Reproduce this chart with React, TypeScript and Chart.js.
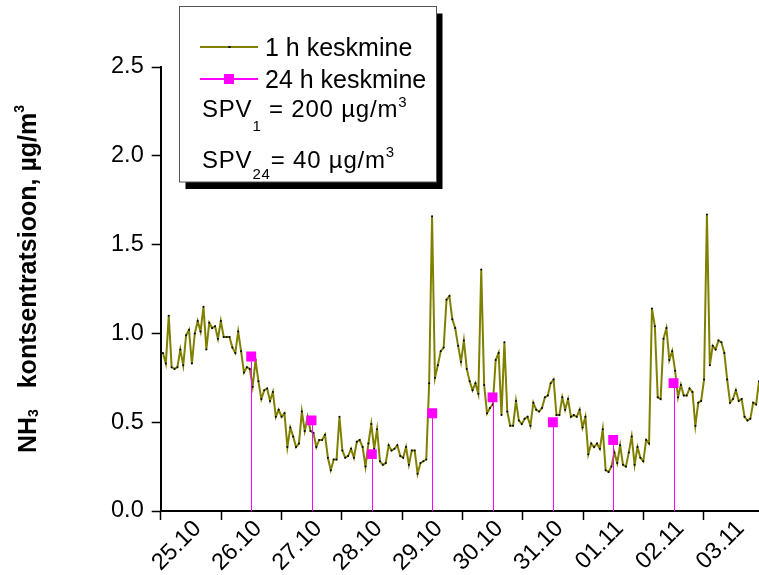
import React, { useEffect, useRef } from 'react';
import { Chart, registerables } from 'chart.js';

Chart.register(...registerables);

// ---------- data ----------
const DATE_LABELS = ['25.10', '26.10', '27.10', '28.10', '29.10', '30.10', '31.10', '01.11', '02.11', '03.11'];
const Y_TICKS = [0, 0.5, 1.0, 1.5, 2.0, 2.5];
const X_MAX_HOURS = 238;

// 1 h averages (hours since 25.10 00:00)
const HOURLY_START = 0.9;
const HOURLY_STEP = 1.151;
const HOURLY_NH3 = [
  0.89, 0.83, 1.10, 0.81, 0.80, 0.81, 0.91, 0.82, 0.99, 1.02,
  0.83, 1.00, 1.07, 1.01, 1.15, 0.91, 1.06, 1.03, 1.04, 0.97,
  1.07, 0.98, 0.98, 0.98, 0.92, 0.89, 1.01, 0.90, 0.78, 0.81,
  0.80, 0.70, 0.85, 0.73,
  0.63, 0.68, 0.69, 0.62, 0.67, 0.53, 0.57, 0.53, 0.55, 0.36,
  0.47, 0.42, 0.36, 0.38, 0.56, 0.45, 0.53, 0.45, 0.44, 0.36,
  0.40, 0.40, 0.43, 0.30, 0.23, 0.29, 0.29, 0.53, 0.34, 0.30,
  0.31, 0.35, 0.30, 0.39, 0.40,
  0.36, 0.25, 0.38, 0.49, 0.35, 0.46, 0.28, 0.26, 0.27, 0.37,
  0.34, 0.35, 0.37, 0.31, 0.30, 0.36, 0.26, 0.34, 0.34, 0.21,
  0.27, 0.28, 0.29, 0.72, 1.66, 0.75, 0.82, 0.90, 0.92, 1.19,
  1.21, 1.08, 1.03, 0.93, 0.84, 0.96, 0.80, 0.73,
  0.68, 0.72, 0.66, 1.36, 0.71, 0.55, 0.58, 0.60, 0.85, 0.89,
  0.54, 0.95, 0.56, 0.48, 0.48, 0.62, 0.51, 0.49, 0.52, 0.53,
  0.48, 0.61, 0.57, 0.56, 0.58, 0.64, 0.65, 0.72, 0.74, 0.54,
  0.54, 0.64, 0.57, 0.63, 0.53,
  0.54, 0.53, 0.57, 0.47, 0.53, 0.32, 0.38, 0.36, 0.38, 0.35,
  0.46, 0.23, 0.22, 0.25, 0.33, 0.27, 0.37, 0.26, 0.25, 0.33,
  0.42, 0.26, 0.36, 0.30, 0.28, 0.40, 0.38, 1.14, 1.04, 0.64,
  0.63, 0.97, 1.03, 0.85,
  0.90, 0.79, 0.64, 0.71, 0.65, 0.65, 0.69, 0.67, 0.48, 0.61,
  0.62, 0.74, 1.67, 0.82, 0.93, 0.91, 0.96, 0.95, 0.89, 0.74,
  0.61, 0.63, 0.68, 0.62, 0.63, 0.53, 0.51, 0.52, 0.61, 0.60,
  0.73,
];

// 24 h averages, plotted at midday
const DAILY_HOURS = [36, 60, 84, 108, 132, 156, 180, 204];
const DAILY_NH3 = [0.87, 0.51, 0.32, 0.55, 0.64, 0.50, 0.40, 0.72];

const SERIES_LABELS = ['1 h keskmine', '24 h keskmine'];
type Seg = { t: string; k?: 'sub' | 'sup' };
const LIMIT_TEXTS: Seg[][] = [
  [{ t: 'SPV' }, { t: '1', k: 'sub' }, { t: ' = 200 µg/m' }, { t: '3', k: 'sup' }],
  [{ t: 'SPV' }, { t: '24', k: 'sub' }, { t: '= 40 µg/m' }, { t: '3', k: 'sup' }],
];
const Y_TITLE: Seg[] = [{ t: 'NH' }, { t: '3', k: 'sub' }, { t: '   kontsentratsioon, µg/m' }, { t: '3', k: 'sup' }];

// ---------- styles ----------
const FONT = '"Liberation Sans", Arial, Helvetica, sans-serif';
const OLIVE = '#808000';
const MAGENTA = '#FF00FF';

type RichOpts = { size: number; small: number; subDy: number; supDy: number; bold?: boolean; align?: 'left' | 'center'; spacing?: number };

function drawRich(ctx: CanvasRenderingContext2D, segs: Seg[], x: number, y: number, o: RichOpts) {
  const anyCtx = ctx as any;
  const prevSpacing = anyCtx.letterSpacing;
  if (o.spacing) anyCtx.letterSpacing = `${o.spacing}px`;
  const w = (s: Seg) => {
    ctx.font = `${o.bold ? 'bold ' : ''}${s.k ? o.small : o.size}px ${FONT}`;
    return ctx.measureText(s.t).width;
  };
  const total = segs.reduce((a, s) => a + w(s), 0);
  let cx = o.align === 'center' ? x - total / 2 : x;
  ctx.textBaseline = 'alphabetic';
  ctx.textAlign = 'left';
  for (const s of segs) {
    const sw = w(s);
    ctx.font = `${o.bold ? 'bold ' : ''}${s.k ? o.small : o.size}px ${FONT}`;
    const dy = s.k === 'sub' ? o.subDy : s.k === 'sup' ? o.supDy : 0;
    ctx.fillText(s.t, cx, y + dy);
    cx += sw;
  }
  if (o.spacing) anyCtx.letterSpacing = prevSpacing || '0px';
}

const dropLinesPlugin = {
  id: 'dropLines',
  beforeDatasetDraw(chart: any, args: any) {
    if (args.index !== 0) return;
    const ctx = chart.ctx as CanvasRenderingContext2D;
    const y0 = chart.scales.y.getPixelForValue(0);
    const meta = chart.getDatasetMeta(0);
    ctx.save();
    ctx.strokeStyle = MAGENTA;
    ctx.lineWidth = 1;
    for (const p of meta.data) {
      const x = Math.round(p.x) + 0.5;
      ctx.beginPath();
      ctx.moveTo(x, p.y);
      ctx.lineTo(x, y0);
      ctx.stroke();
    }
    ctx.restore();
  },
};

const annotationsPlugin = {
  id: 'annotations',
  afterDraw(chart: any) {
    const ctx = chart.ctx as CanvasRenderingContext2D;
    ctx.save();
    // legend box with shadow
    const bx = 179.5, by = 6.5, bw = 257, bh = 175.5;
    ctx.fillStyle = '#000';
    ctx.fillRect(bx + 6, by + 7, bw, bh);
    ctx.fillStyle = '#fff';
    ctx.fillRect(bx, by, bw, bh);
    ctx.strokeStyle = '#555';
    ctx.lineWidth = 1;
    ctx.strokeRect(bx, by, bw, bh);

    // series samples
    const rows = [47, 79];
    ctx.lineWidth = 2;
    ctx.strokeStyle = OLIVE;
    ctx.beginPath();
    ctx.moveTo(200, rows[0]);
    ctx.lineTo(258, rows[0]);
    ctx.stroke();
    ctx.fillStyle = '#000';
    ctx.fillRect(228.5, rows[0] - 1, 2, 2);
    ctx.strokeStyle = MAGENTA;
    ctx.beginPath();
    ctx.moveTo(200, rows[1]);
    ctx.lineTo(258, rows[1]);
    ctx.stroke();
    ctx.fillStyle = MAGENTA;
    ctx.fillRect(224, rows[1] - 5, 10, 10);

    ctx.fillStyle = '#000';
    ctx.font = `25px ${FONT}`;
    ctx.textBaseline = 'alphabetic';
    ctx.textAlign = 'left';
    ctx.fillText(SERIES_LABELS[0], 265, 56);
    ctx.fillText(SERIES_LABELS[1], 265, 87.5);

    drawRich(ctx, LIMIT_TEXTS[0], 202, 117, { size: 24, small: 15, subDy: 14, supDy: -10, spacing: 0.8 });
    drawRich(ctx, LIMIT_TEXTS[1], 202, 168, { size: 24, small: 15, subDy: 11, supDy: -11, spacing: 0.8 });

    // y axis title
    ctx.translate(36, 279);
    ctx.rotate(-Math.PI / 2);
    drawRich(ctx, Y_TITLE, 0, 0, { size: 25, small: 14, subDy: 2, supDy: -12, bold: true, align: 'center' });
    ctx.restore();
  },
};

export default function App() {
  const ref = useRef<HTMLCanvasElement>(null);
  useEffect(() => {
    document.body.style.margin = '0';
    const hourly = HOURLY_NH3.map((v, i) => ({ x: HOURLY_START + i * HOURLY_STEP, y: v }));
    const daily = DAILY_NH3.map((v, i) => ({ x: DAILY_HOURS[i], y: v }));
    const tickFont = { family: FONT, size: 23.5 };
    const chart = new Chart(ref.current as HTMLCanvasElement, {
      type: 'line',
      data: {
        datasets: [
          {
            label: SERIES_LABELS[1],
            data: daily,
            showLine: false,
            pointStyle: 'rect',
            pointRadius: 7,
            pointBackgroundColor: MAGENTA,
            pointBorderColor: MAGENTA,
            pointBorderWidth: 0,
            borderColor: MAGENTA,
            backgroundColor: MAGENTA,
          },
          {
            label: SERIES_LABELS[0],
            data: hourly,
            borderColor: OLIVE,
            borderWidth: 2,
            tension: 0,
            pointRadius: 1,
            pointBackgroundColor: '#000',
            pointBorderWidth: 0,
            fill: false,
          },
        ],
      },
      options: {
        responsive: false,
        animation: false,
        events: [],
        layout: { autoPadding: false, padding: { top: 67, right: 0, bottom: 0, left: 0 } },
        plugins: { legend: { display: false }, tooltip: { enabled: false } },
        scales: {
          x: {
            type: 'linear',
            min: 0,
            max: X_MAX_HOURS,
            afterBuildTicks: (s: any) => {
              s.ticks = DATE_LABELS.map((_, i) => ({ value: i * 24 }));
            },
            afterFit: (s: any) => {
              s.height = 64;
              s.paddingLeft = 0;
              s.paddingRight = 0;
            },
            ticks: {
              autoSkip: false,
              minRotation: 45,
              maxRotation: 45,
              labelOffset: 37,
              padding: -5,
              color: '#000',
              font: tickFont,
              callback: (v: any) => DATE_LABELS[Math.round(Number(v) / 24)],
            },
            grid: { drawOnChartArea: false, drawTicks: true, tickLength: 9, tickWidth: 1.5, tickColor: '#000' },
            border: { display: true, color: '#000', width: 2 },
          },
          y: {
            type: 'linear',
            min: 0,
            max: 2.5,
            afterBuildTicks: (s: any) => {
              s.ticks = Y_TICKS.map((v) => ({ value: v }));
            },
            afterFit: (s: any) => {
              s.width = 160.7;
            },
            ticks: {
              padding: 8,
              color: '#000',
              font: tickFont,
              callback: (v: any) => Number(v).toFixed(1),
            },
            grid: { drawOnChartArea: false, drawTicks: true, tickLength: 9, tickWidth: 1.5, tickColor: '#000' },
            border: { display: true, color: '#000', width: 2 },
          },
        },
      },
      plugins: [dropLinesPlugin, annotationsPlugin],
    } as any);
    return () => chart.destroy();
  }, []);
  return (
    <div style={{ width: 759, height: 575 }}>
      <canvas ref={ref} width={759} height={575} style={{ display: 'block' }} />
    </div>
  );
}
